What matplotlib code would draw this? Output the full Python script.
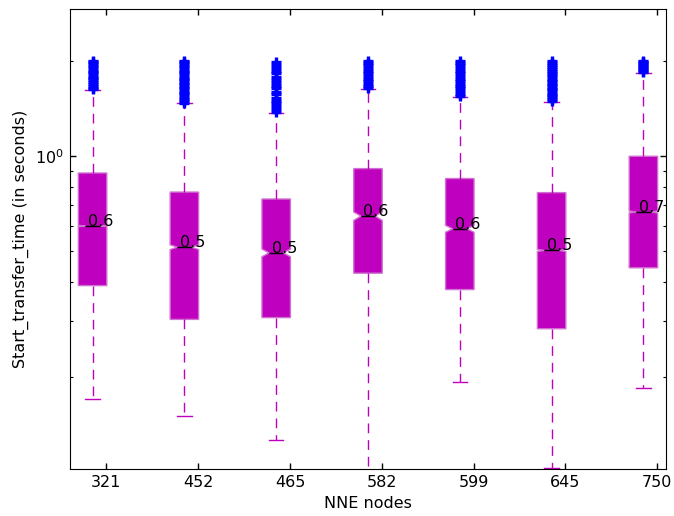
import matplotlib
matplotlib.use('Agg')
import matplotlib.pyplot as plt
from matplotlib.ticker import NullFormatter

# NNE nodes (x categories)
nodes = ['321', '452', '465', '582', '599', '645', '750']

# box statistics (seconds)
q1 = [0.389, 0.304, 0.308, 0.426, 0.378, 0.284, 0.443]
med = [0.601, 0.515, 0.494, 0.646, 0.589, 0.503, 0.666]
q3 = [0.885, 0.770, 0.732, 0.914, 0.850, 0.767, 1.000]
whislo = [0.170, 0.150, 0.126, 0.090, 0.192, 0.103, 0.184]
whishi = [1.62, 1.47, 1.37, 1.63, 1.54, 1.49, 1.84]
ci_lo = [0.598, 0.506, 0.480, 0.626, 0.574, 0.499, 0.661]
ci_hi = [0.604, 0.524, 0.508, 0.666, 0.604, 0.507, 0.671]

# outliers (dense columns of "+" above the upper whisker)
fliers_321 = [1.63, 1.65, 1.67, 1.69, 1.72, 1.74, 1.77, 1.79, 1.82, 1.85,
              1.87, 1.90, 1.93, 1.96, 1.99, 2.0]
fliers_452 = [1.48, 1.50, 1.52, 1.54, 1.57, 1.59, 1.61, 1.64, 1.66, 1.69,
              1.71, 1.74, 1.76, 1.79, 1.82, 1.85, 1.87, 1.90, 1.93, 1.96,
              1.99, 2.0]
fliers_465 = [1.38, 1.41, 1.44, 1.47, 1.50, 1.53, 1.57, 1.60, 1.64, 1.67,
              1.71, 1.75, 1.79, 1.83, 1.87, 1.91, 1.95, 1.99]
fliers_582 = [1.64, 1.67, 1.70, 1.73, 1.76, 1.80, 1.83, 1.87, 1.90, 1.94,
              1.97, 2.0]
fliers_599 = [1.55, 1.58, 1.61, 1.64, 1.67, 1.70, 1.73, 1.76, 1.80, 1.83,
              1.87, 1.90, 1.94, 1.97, 2.0]
fliers_645 = [1.50, 1.52, 1.54, 1.56, 1.58, 1.61, 1.63, 1.65, 1.68, 1.70,
              1.73, 1.75, 1.78, 1.81, 1.83, 1.86, 1.89, 1.92, 1.95, 1.98,
              2.0]
fliers_750 = [1.85, 1.87, 1.89, 1.91, 1.93, 1.95, 1.97, 1.99, 2.0]
fliers = [fliers_321, fliers_452, fliers_465, fliers_582, fliers_599,
          fliers_645, fliers_750]

stats = []
for i in range(len(nodes)):
    stats.append(dict(med=med[i], q1=q1[i], q3=q3[i], whislo=whislo[i],
                      whishi=whishi[i], cilo=ci_lo[i], cihi=ci_hi[i],
                      fliers=fliers[i], label=nodes[i]))

positions = list(range(1, len(nodes) + 1))

fig = plt.figure(figsize=(6.74, 5.16), dpi=100)
ax = fig.add_axes([70 / 674, 47 / 516, 596 / 674, 460 / 516])

ax.bxp(stats, positions=positions, widths=0.31, shownotches=True,
       patch_artist=True,
       boxprops=dict(facecolor='m', edgecolor='#d070d0', linewidth=1),
       whiskerprops=dict(color='m', linestyle=(0, (7, 5)), linewidth=1),
       capprops=dict(color='m', linewidth=1),
       medianprops=dict(color='k', linewidth=1),
       flierprops=dict(marker='+', markeredgecolor='b', markersize=6.5,
                       markeredgewidth=2.4, linestyle='none'))

ax.set_yscale('log')
ax.set_xlim(0.754, 7.246)
ax.set_ylim(0.102, 2.93)
ax.yaxis.set_minor_formatter(NullFormatter())

ax.set_xticks([p + 0.15 for p in positions])
ax.set_xticklabels(nodes)
ax.tick_params(which='both', direction='in', top=True, right=True,
               labelsize=11.5, pad=4.5)
ax.tick_params(which='major', length=4, width=1)
ax.tick_params(which='minor', length=2, width=0.8)

# median value labels
for p, m in zip(positions, med):
    ax.text(p - 0.05, m, '%.1f' % m, ha='left', va='baseline', fontsize=11.5)

ax.set_xlabel('NNE nodes', fontsize=11.5)
ax.set_ylabel('Start_transfer_time (in seconds)', fontsize=11.5)

fig.savefig('out.png', dpi=100)
